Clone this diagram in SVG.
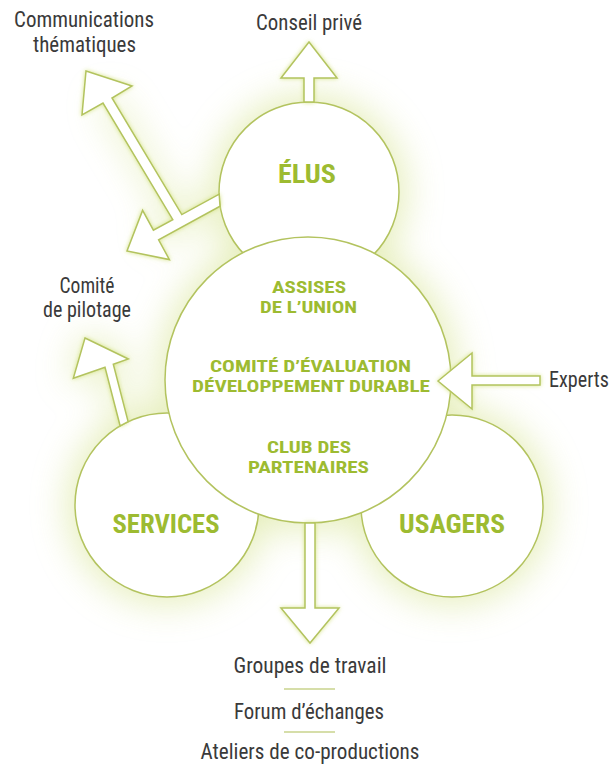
<svg xmlns="http://www.w3.org/2000/svg" width="613" height="766" viewBox="0 0 613 766">
<style>
.ring{fill:#ffffff;stroke:#b3c35f;stroke-width:1.5}
.arr{fill:#ffffff;stroke:#b3c35f;stroke-width:1.5;stroke-linejoin:miter}
.lbl{font-family:'Liberation Sans Narrow','Roboto Condensed','Roboto','Liberation Sans',sans-serif;font-size:22px;fill:#3a3a3a;text-anchor:middle}
.big{font-family:'Liberation Sans Narrow','Roboto Condensed','Roboto','Liberation Sans',sans-serif;font-weight:bold;font-size:26px;fill:#9dbb31;text-anchor:middle}
.mid{font-family:'Liberation Sans Narrow','Roboto Condensed','Roboto','Liberation Sans',sans-serif;font-weight:bold;font-size:17px;fill:#9dbb31;text-anchor:middle}
.sep{stroke:#c9d38c;stroke-width:1.5}
</style>
<defs>
<filter id="blur" x="-30%" y="-30%" width="160%" height="160%"><feGaussianBlur stdDeviation="18"/></filter>
<filter id="soft" x="-20%" y="-20%" width="140%" height="140%">
<feGaussianBlur in="SourceAlpha" stdDeviation="2.2" result="b"/>
<feFlood flood-color="#d3e27f" flood-opacity="0.9"/>
<feComposite in2="b" operator="in"/>
<feMerge><feMergeNode/><feMergeNode in="SourceGraphic"/></feMerge>
</filter>
</defs>
<rect width="613" height="766" fill="#ffffff"/>
<g id="halo" filter="url(#blur)" fill="#dbe79f" stroke="#dbe79f" stroke-width="14" opacity="0.7">
<circle cx="309" cy="192" r="90"/>
<circle cx="308" cy="380" r="143"/>
<circle cx="167" cy="505" r="92"/>
<circle cx="452" cy="506" r="91"/>
<polygon points="85,338 128.3,359 113.3,364.3 128.1,421.6 120.1,425.8 105,367.2 73.3,378.3" stroke-width="6"/>
<polygon points="172.8,219.6 103,103 112,98 181.8,214.6 219.2,194.2 220,206.2 158.6,239.8 153.4,230.2" stroke-width="6"/>
</g>
<g id="node-elus"><circle class="ring" cx="309" cy="192" r="90"/><text class="big" x="307" y="183" textLength="58" lengthAdjust="spacingAndGlyphs">ÉLUS</text></g>
<g id="node-services"><circle class="ring" cx="167" cy="505" r="92"/><text class="big" x="166" y="533" textLength="107" lengthAdjust="spacingAndGlyphs">SERVICES</text></g>
<g id="node-usagers"><circle class="ring" cx="452" cy="506" r="91"/><text class="big" x="452" y="533" textLength="106" lengthAdjust="spacingAndGlyphs">USAGERS</text></g>
<g id="node-central"><circle class="ring" cx="308" cy="380" r="143"/>
<text class="mid" x="309" y="292.5" textLength="74" lengthAdjust="spacingAndGlyphs">ASSISES</text>
<text class="mid" x="308.5" y="312.5" textLength="97" lengthAdjust="spacingAndGlyphs">DE L’UNION</text>
<text class="mid" x="310.5" y="372" textLength="201" lengthAdjust="spacingAndGlyphs">COMITÉ D’ÉVALUATION</text>
<text class="mid" x="311" y="392" textLength="238" lengthAdjust="spacingAndGlyphs">DÉVELOPPEMENT DURABLE</text>
<text class="mid" x="309" y="453" textLength="84" lengthAdjust="spacingAndGlyphs">CLUB DES</text>
<text class="mid" x="308.5" y="473" textLength="121" lengthAdjust="spacingAndGlyphs">PARTENAIRES</text>
</g>
<g id="connectors" filter="url(#soft)">
<polygon class="arr" points="309,42 337,78 314,78 314,102 304,102 304,78 281,78"/>
<polygon class="arr" points="86,71 132,86 112,98 181.8,214.6 219.2,194.2 220,206.2 158.6,239.8 169.4,259.6 127,251 142.6,210.4 153.4,230.2 172.8,219.6 103,103 82,115"/>
<polygon class="arr" points="85,338 128.3,359 113.3,364.3 128.1,421.6 120.1,425.8 105,367.2 73.3,378.3"/>
<polygon class="arr" points="438,381 472,353 472,376 540,376 540,385 472,385 472,409"/>
<polygon class="arr" points="305,523 315,523 315,608 339,608 310,643 281,608 305,608"/>
</g>
<g id="node-communications"><text class="lbl" x="84" y="27" textLength="140" lengthAdjust="spacingAndGlyphs">Communications</text><text class="lbl" x="84.5" y="52" textLength="103" lengthAdjust="spacingAndGlyphs">thématiques</text></g>
<g id="node-conseil"><text class="lbl" x="309" y="30" textLength="106" lengthAdjust="spacingAndGlyphs">Conseil privé</text></g>
<g id="node-comite-pilotage"><text class="lbl" x="87" y="293" textLength="55" lengthAdjust="spacingAndGlyphs">Comité</text><text class="lbl" x="87" y="317" textLength="88" lengthAdjust="spacingAndGlyphs">de pilotage</text></g>
<g id="node-experts"><text class="lbl" x="549" y="387" style="text-anchor:start" textLength="60" lengthAdjust="spacingAndGlyphs">Experts</text></g>
<g id="node-bottom">
<text class="lbl" x="310" y="673" textLength="153" lengthAdjust="spacingAndGlyphs">Groupes de travail</text>
<line class="sep" x1="284" y1="689" x2="335" y2="689"/>
<text class="lbl" x="309" y="719" textLength="150" lengthAdjust="spacingAndGlyphs">Forum d’échanges</text>
<line class="sep" x1="284" y1="732" x2="335" y2="732"/>
<text class="lbl" x="310" y="759" textLength="219" lengthAdjust="spacingAndGlyphs">Ateliers de co-productions</text>
</g>
</svg>
